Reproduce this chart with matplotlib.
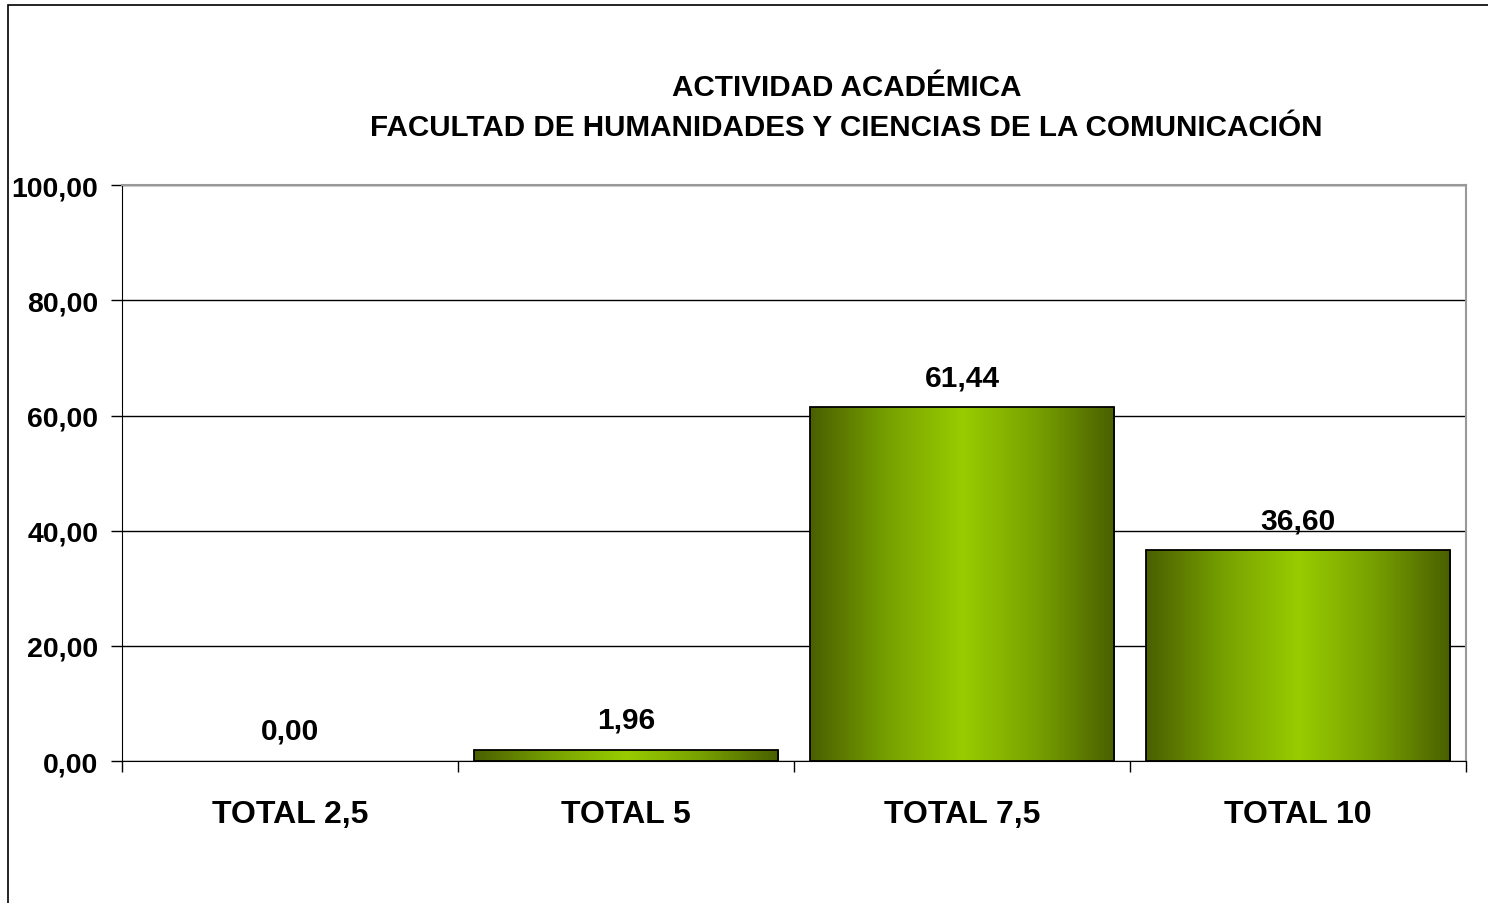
import numpy as np
import matplotlib.pyplot as plt
from matplotlib.colors import LinearSegmentedColormap
from matplotlib.patches import Rectangle

categorias = ['TOTAL 2,5', 'TOTAL 5', 'TOTAL 7,5', 'TOTAL 10']
valores = [0.00, 1.96, 61.44, 36.60]
etiquetas = ['0,00', '1,96', '61,44', '36,60']
yticks = [0, 20, 40, 60, 80, 100]
ytick_labels = ['0,00', '20,00', '40,00', '60,00', '80,00', '100,00']
titulo = 'ACTIVIDAD ACADÉMICA\nFACULTAD DE HUMANIDADES Y CIENCIAS DE LA COMUNICACIÓN'

plt.rcParams['font.family'] = ['Liberation Sans', 'DejaVu Sans']
plt.rcParams['font.weight'] = 'bold'

fig = plt.figure(figsize=(14.88, 9.04), dpi=100)
ax = fig.add_axes([0.082, 0.157, 0.9032, 0.637])

# green gradient, dark at the sides and bright in the middle
cmap = LinearSegmentedColormap.from_list('verde', ['#4a5f00', '#76a000', '#99cc00', '#76a000', '#4a5f00'])
grad = np.linspace(0, 1, 256).reshape(1, -1)

ancho = 0.905
x = np.arange(len(categorias))
bars = ax.bar(x, valores, width=ancho, facecolor='none', edgecolor='black', linewidth=1.3, zorder=3)
for b in bars:
    x0, w, h = b.get_x(), b.get_width(), b.get_height()
    if h <= 0:
        b.set_linewidth(0)
        continue
    im = ax.imshow(grad, cmap=cmap, aspect='auto', extent=[x0, x0 + w, 0, h], zorder=2)
    im.set_clip_path(b)

for xi, v, lab in zip(x, valores, etiquetas):
    ax.text(xi, v + 2.8, lab, ha='center', va='bottom', fontsize=21.5, fontweight='bold')

ax.set_xlim(-0.5, len(categorias) - 0.5)
ax.set_ylim(0, 100)
ax.set_yticks(yticks)
ax.set_yticklabels(ytick_labels, fontsize=20.5, fontweight='bold')
ax.yaxis.grid(True, color='black', linewidth=1)
ax.set_axisbelow(True)

ax.set_xticks(x)
ax.set_xticklabels(categorias, fontsize=23, fontweight='bold')
ax.tick_params(axis='x', which='major', length=0, pad=27)
ax.set_xticks(np.arange(-0.5, len(categorias), 1), minor=True)
ax.tick_params(axis='x', which='minor', length=8, width=1, direction='out')
ax.tick_params(axis='y', length=8, width=1, direction='out', pad=9)

ax.spines['top'].set_color('#999999')
ax.spines['right'].set_color('#999999')
ax.spines['right'].set_linewidth(1.5)
ax.spines['top'].set_linewidth(1.5)
ax.spines['left'].set_color('black')
ax.spines['bottom'].set_color('black')

fig.text(0.569, 0.881, titulo, ha='center', va='center', fontsize=21.3, fontweight='bold', linespacing=1.55)

# outer chart frame
fig.patches.append(Rectangle((8 / 1488, -0.1), 1.2, 1 - 6 / 904 + 0.1, transform=fig.transFigure,
                             fill=False, edgecolor='black', linewidth=1.2))

fig.savefig('out.png', dpi=100)
